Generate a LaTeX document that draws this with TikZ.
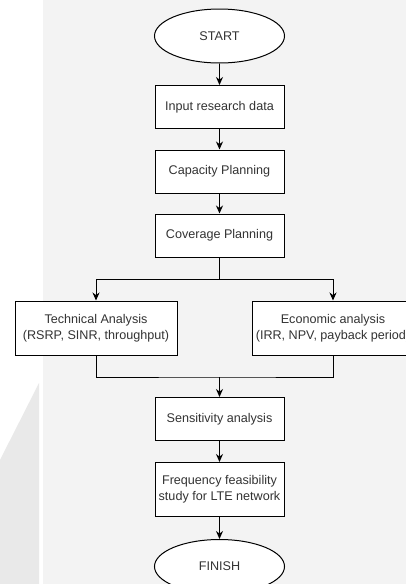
\documentclass[tikz,border=0pt]{standalone}
\usepackage{fontspec}
\setmainfont{Liberation Sans}
\usepackage{tikz}
\usetikzlibrary{arrows.meta,positioning,shapes.geometric}

\definecolor{pagegray}{HTML}{F3F3F3}
\definecolor{wedgegray}{HTML}{E9E9E9}
\definecolor{textgray}{HTML}{333333}

\begin{document}
\begin{tikzpicture}[x=1pt,y=1pt,>={Stealth[length=8pt,width=7pt]},
                    line width=1pt,node distance=21pt,
                    font=\fontsize{12.6}{16}\selectfont]

  \tikzstyle{process}=[rectangle,draw,fill=white,text=textgray,align=center,
                       minimum width=129pt,minimum height=43pt,inner sep=2pt]
  \tikzstyle{wide}=[process,minimum width=162pt,minimum height=54pt]
  \tikzstyle{terminal}=[ellipse,draw,fill=white,text=textgray,
                        minimum width=130pt,minimum height=54pt,inner sep=0pt]

  \useasboundingbox (0,0) rectangle (406,-584);
  \fill[white] (0,0) rectangle (406,-584);
  \fill[pagegray] (43,0) rectangle (406,-584);
  \fill[wedgegray] (0,-460) -- (39,-383) -- (39,-584) -- (0,-584) -- cycle;

  \node[terminal] (ST) at (219.5,-36)          {START};
  \node[process]  (IN) [below=21.5pt of ST]    {Input research data};
  \node[process]  (CP) [below of=IN,node distance=64.5pt] {Capacity Planning};
  \node[process]  (CV) [below of=CP,node distance=64pt]   {Coverage Planning};
  \node[wide]     (TA) [below=43pt of CV,xshift=-123.5pt]
                       {Technical Analysis\\(RSRP, SINR, throughput)};
  \node[wide]     (EA) [below=43pt of CV,xshift=113.5pt]
                       {Economic analysis\\(IRR, NPV, payback period)};
  \node[process]  (SA) [below=139.5pt of CV]   {Sensitivity analysis};
  \node[wide,minimum width=129pt] (FS) [below=21pt of SA]
                       {Frequency feasibility\\study for LTE network};
  \node[terminal] (FI) [below=22pt of FS]      {FINISH};

  \path (CV.south) ++(0,-22) coordinate (split);
  \path (TA.south -| CV.south) ++(0,-21.5) coordinate (merge);

  \draw[->] (ST) -- (IN);
  \draw[->] (IN) -- (CP);
  \draw[->] (CP) -- (CV);
  \draw     (CV) -- (split);
  \draw[->] (split) -| (TA);
  \draw[->] (split) -| (EA);
  \draw     (TA) |- (merge) -| (EA);
  \draw[->] (merge) -- (SA);
  \draw[->] (SA) -- (FS);
  \draw[->] (FS) -- (FI);
\end{tikzpicture}
\end{document}
